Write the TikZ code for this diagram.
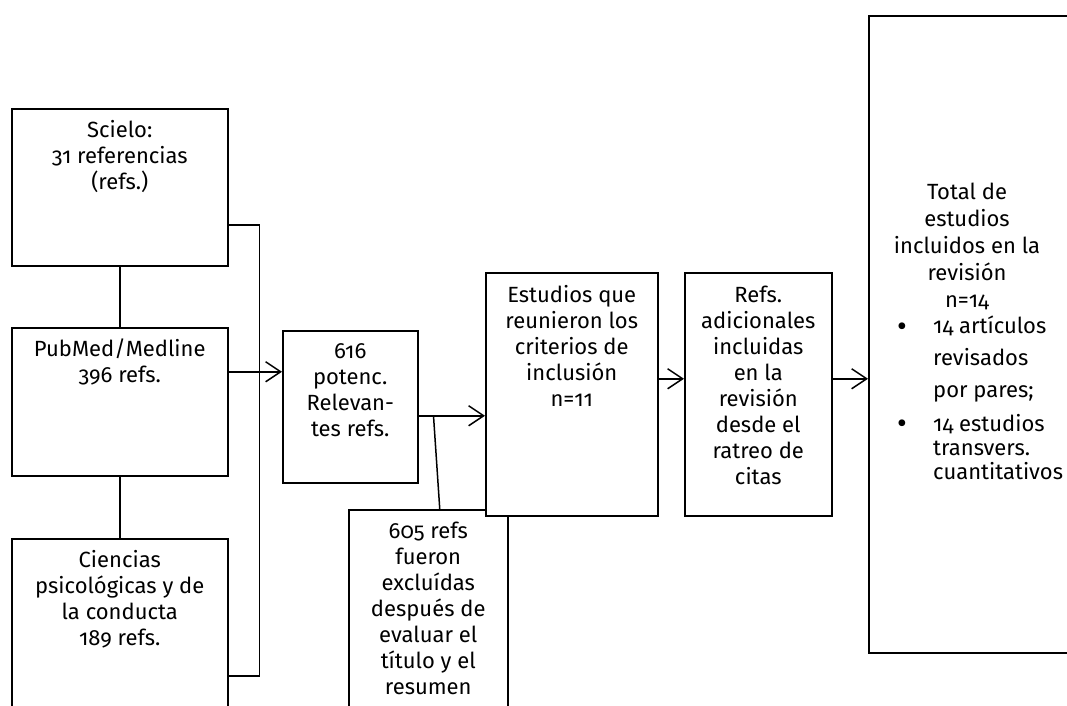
\documentclass[tikz,border=0pt]{standalone}
\usepackage{fontspec}
\setmainfont{Fira Sans}[Numbers=OldStyle]
\usetikzlibrary{arrows.meta}
\begin{document}
\begin{tikzpicture}[x=1pt,y=-1pt,
  box/.style={draw, line width=1.5pt, fill=white, inner sep=0pt, anchor=north west},
  txt/.style={align=center, inner sep=0pt, anchor=north, font=\fontsize{22}{26}\selectfont},
  lnk/.style={line width=1.5pt},
  arr/.style={line width=1.5pt, -{Straight Barb[length=15pt,width=20pt,line width=1.5pt]}},
  bul/.style={inner sep=0pt, anchor=base, font=\fontsize{30}{30}\selectfont}]
\useasboundingbox (0,0) rectangle (1067,705);
\clip (0,0) rectangle (1067,705);
% boxes (605 box before the Estudios box, which covers its corner)
\node[box, minimum width=216pt, minimum height=157pt] (scielo) at (11,108) {};
\node[box, minimum width=216pt, minimum height=148pt] (pubmed) at (11,327) {};
\node[box, minimum width=216pt, minimum height=250pt] (ciencias) at (11,538) {};
\node[box, minimum width=135pt, minimum height=152pt] (p616) at (282,330) {};
\node[box, minimum width=159pt, minimum height=250pt] (p605) at (348,509) {};
\node[box, minimum width=172pt, minimum height=243pt] (estud) at (485,272) {};
\node[box, minimum width=147pt, minimum height=243pt] (refs) at (684,272) {};
\node[box, minimum width=260pt, minimum height=637pt] (total) at (868,15) {};
% texts
\node[txt] (tscielo) at ([yshift=-11pt]scielo.north) {\strut Scielo:\\31 referencias\\(refs.)};
\node[txt] (tpubmed) at ([yshift=-11pt]pubmed.north) {\strut PubMed/Medline\\396 refs.};
\node[txt] (tciencias) at ([yshift=-11pt]ciencias.north) {\strut Ciencias\\psicológicas y de\\la conducta\\189 refs.};
\node[txt] (t616) at ([yshift=-10.5pt]p616.north) {\strut 616\\potenc.\\Relevan-\\tes refs.};
\node[txt] (t605) at ([yshift=-11pt]p605.north) {\strut 605 refs\\fueron\\excluídas\\después de\\evaluar el\\título y el\\resumen};
\node[txt] (testud) at ([yshift=-12pt]estud.north) {\strut Estudios que\\reunieron los\\criterios de\\inclusión\\n=11};
\node[txt] (trefs) at ([yshift=-12pt]refs.north) {\strut Refs.\\adicionales\\incluidas\\en la\\revisión\\desde el\\ratreo de\\citas};
\node[txt, font=\fontsize{22}{27}\selectfont] (ttotal) at (967,180) {\strut Total de\\estudios\\incluidos en la\\revisión\\n=14};
\node[txt, anchor=north west, align=left, font=\fontsize{22}{32}\selectfont] (item1) at (933,311) {\strut 14 artículos\\revisados\\por pares;};
\node[txt, anchor=north west, align=left, font=\fontsize{22}{24}\selectfont] (item2) at (933,414) {\strut 14 estudios\\transvers.\\cuantitativos};
\node[bul] (bul1) at (902,336) {•};
\node[bul] (bul2) at (902,433) {•};
% connectors
\draw[lnk] (scielo.south) -- (pubmed.north);
\draw[lnk] (pubmed.south) -- (ciencias.north);
\coordinate (b1) at ([yshift=-37.5pt]scielo.east);
\coordinate (b2) at ([yshift=-12pt]ciencias.east);
\draw[lnk] (b1) -- ++(31,0) |- (b2);
\coordinate (a1) at ([yshift=30pt]pubmed.east);
\draw[arr] (a1) -- (a1 -| p616.west);
\coordinate (a2) at ([yshift=-9pt]p616.east);
\draw[arr] (a2) -- (a2 -| estud.west);
\coordinate (s1) at ([xshift=15pt]a2);
\coordinate (s2) at ([xshift=11.5pt]p605.north);
\draw[lnk] (s1) -- (s2);
\coordinate (a3) at ([yshift=15.5pt]estud.east);
\draw[arr] (a3) -- (a3 -| refs.west);
\coordinate (a4) at ([yshift=15.5pt]refs.east);
\draw[arr] (a4) -- (a4 -| total.west);
\end{tikzpicture}
\end{document}
